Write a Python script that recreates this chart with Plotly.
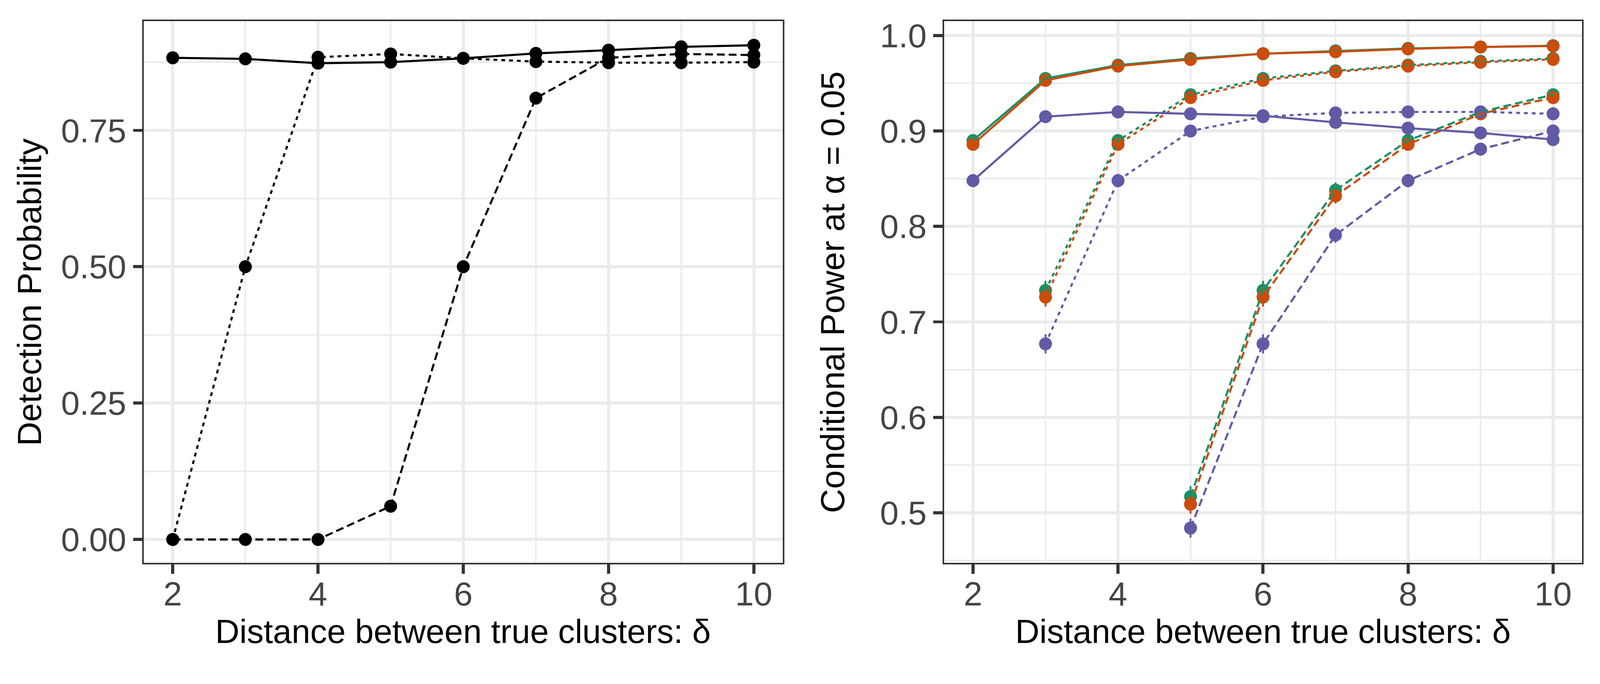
import plotly.graph_objects as go

# distance between true clusters
delta = [2, 3, 4, 5, 6, 7, 8, 9, 10]

# left panel: detection probability (three settings, by line type)
det_solid = [0.883, 0.881, 0.873, 0.875, 0.882, 0.891, 0.897, 0.903, 0.906]
det_dotted = [0.000, 0.500, 0.884, 0.890, 0.882, 0.876, 0.874, 0.874, 0.875]
det_dashed = [0.000, 0.000, 0.000, 0.061, 0.500, 0.809, 0.883, 0.890, 0.888]

# right panel: conditional power at alpha = 0.05 (three methods x three settings)
pow_green_solid = [0.890, 0.955, 0.969, 0.976, 0.981, 0.984, 0.9865, 0.988, 0.9894]
pow_orange_solid = [0.886, 0.953, 0.968, 0.975, 0.981, 0.983, 0.986, 0.988, 0.989]
pow_purple_solid = [0.848, 0.915, 0.920, 0.918, 0.916, 0.909, 0.903, 0.898, 0.891]
pow_green_dotted = [None, 0.733, 0.890, 0.938, 0.955, 0.963, 0.969, 0.973, 0.976]
pow_orange_dotted = [None, 0.726, 0.886, 0.935, 0.953, 0.962, 0.968, 0.972, 0.975]
pow_purple_dotted = [None, 0.677, 0.848, 0.900, 0.915, 0.919, 0.920, 0.920, 0.918]
pow_green_dashed = [None, None, None, 0.517, 0.733, 0.838, 0.890, 0.920, 0.938]
pow_orange_dashed = [None, None, None, 0.509, 0.726, 0.832, 0.886, 0.918, 0.935]
pow_purple_dashed = [None, None, None, 0.484, 0.677, 0.791, 0.848, 0.881, 0.900]

# error bar half widths
err_green_solid = [0.006, 0.004, 0.003, 0.003, 0.002, 0.002, 0.002, 0.002, 0.002]
err_orange_solid = [0.006, 0.004, 0.003, 0.003, 0.002, 0.002, 0.002, 0.002, 0.002]
err_purple_solid = [0.007, 0.005, 0.005, 0.005, 0.005, 0.005, 0.005, 0.005, 0.005]
err_green_dotted = [None, 0.010, 0.006, 0.004, 0.003, 0.003, 0.003, 0.003, 0.002]
err_orange_dotted = [None, 0.010, 0.006, 0.004, 0.003, 0.003, 0.003, 0.003, 0.002]
err_purple_dotted = [None, 0.010, 0.007, 0.005, 0.005, 0.005, 0.005, 0.005, 0.005]
err_green_dashed = [None, None, None, 0.011, 0.010, 0.008, 0.006, 0.005, 0.004]
err_orange_dashed = [None, None, None, 0.010, 0.010, 0.008, 0.006, 0.005, 0.004]
err_purple_dashed = [None, None, None, 0.010, 0.010, 0.008, 0.007, 0.006, 0.006]

GREEN = "#1B9066"
ORANGE = "#CC4C0A"
PURPLE = "#615AA5"
DASH = {"solid": "solid", "dotted": "10px,10.5px", "dashed": "20.5px,10.5px"}
FONT = "Liberation Sans, Arial, sans-serif"
W, H = 4200, 1750

fig = go.Figure()

# left panel: points then lines
left = [("solid", det_solid), ("dotted", det_dotted), ("dashed", det_dashed)]
for lt, ys in left:
    fig.add_trace(go.Scatter(x=delta, y=ys, mode="markers", xaxis="x", yaxis="y",
                             marker=dict(color="black", size=34), showlegend=False))
for lt, ys in left:
    fig.add_trace(go.Scatter(x=delta, y=ys, mode="lines", xaxis="x", yaxis="y",
                             line=dict(color="black", width=5.5, dash=DASH[lt]), showlegend=False))

# right panel
right = [
    (GREEN, "solid", pow_green_solid, err_green_solid),
    (GREEN, "dotted", pow_green_dotted, err_green_dotted),
    (GREEN, "dashed", pow_green_dashed, err_green_dashed),
    (ORANGE, "solid", pow_orange_solid, err_orange_solid),
    (ORANGE, "dotted", pow_orange_dotted, err_orange_dotted),
    (ORANGE, "dashed", pow_orange_dashed, err_orange_dashed),
    (PURPLE, "solid", pow_purple_solid, err_purple_solid),
    (PURPLE, "dotted", pow_purple_dotted, err_purple_dotted),
    (PURPLE, "dashed", pow_purple_dashed, err_purple_dashed),
]
for col, lt, ys, es in right:
    fig.add_trace(go.Scatter(x=delta, y=ys, mode="markers", xaxis="x2", yaxis="y2",
                             marker=dict(color=col, size=34),
                             error_y=dict(type="data", array=es, visible=True,
                                          width=0, thickness=5, color=col),
                             showlegend=False))
for col, lt, ys, es in right:
    fig.add_trace(go.Scatter(x=delta, y=ys, mode="lines", xaxis="x2", yaxis="y2",
                             line=dict(color=col, width=5.5, dash=DASH[lt]), showlegend=False))

axis_common = dict(
    showline=True, mirror=True, linecolor="#333333", linewidth=4,
    ticks="outside", ticklen=24, tickwidth=8, tickcolor="#333333",
    showgrid=True, gridcolor="#EBEBEB", gridwidth=7.5, zeroline=False,
    tickfont=dict(family=FONT, size=88, color="#444444"),
)
xaxis_common = dict(axis_common, range=[1.6, 10.4], tickvals=[2, 4, 6, 8, 10],
                    ticklabelstandoff=-22,
                    minor=dict(showgrid=True, gridcolor="#EBEBEB", gridwidth=4, dtick=1, tick0=2))

fig.update_layout(
    width=W, height=H,
    margin=dict(l=0, r=0, t=0, b=0),
    paper_bgcolor="white", plot_bgcolor="white",
    font=dict(family=FONT, color="black"),
    xaxis=dict(xaxis_common, domain=[0.0898, 0.4893], anchor="y"),
    yaxis=dict(axis_common, domain=[0.1571, 0.9743], anchor="x",
               range=[-0.043, 0.95], tickvals=[0, 0.25, 0.5, 0.75], tickformat=".2f",
               minor=dict(showgrid=True, gridcolor="#EBEBEB", gridwidth=4, dtick=0.125, tick0=0)),
    xaxis2=dict(xaxis_common, domain=[0.59, 0.9888], anchor="y2"),
    yaxis2=dict(axis_common, domain=[0.1571, 0.9743], anchor="x2",
                range=[0.4475, 1.015], tickvals=[0.5, 0.6, 0.7, 0.8, 0.9, 1.0], tickformat=".1f",
                minor=dict(showgrid=True, gridcolor="#EBEBEB", gridwidth=4, dtick=0.05, tick0=0.45)),
)

title_font = dict(family=FONT, size=88, color="black")
fig.add_annotation(text="Distance between true clusters: δ", xref="paper", yref="paper",
                   x=0.2895, y=0.0537, xanchor="center", yanchor="middle",
                   showarrow=False, font=title_font)
fig.add_annotation(text="Distance between true clusters: δ", xref="paper", yref="paper",
                   x=0.7894, y=0.0537, xanchor="center", yanchor="middle",
                   showarrow=False, font=title_font)
fig.add_annotation(text="Detection Probability", xref="paper", yref="paper",
                   x=0.0183, y=0.5657, xanchor="center", yanchor="middle", textangle=-90,
                   showarrow=False, font=title_font)
fig.add_annotation(text="Conditional Power at α = 0.05", xref="paper", yref="paper",
                   x=0.5202, y=0.5657, xanchor="center", yanchor="middle", textangle=-90,
                   showarrow=False, font=title_font)

# fit the fixed-size figure to the page width (same factor both ways)
fit_js = """
var gd = document.getElementById('{plot_id}');
document.body.style.margin = '0';
document.body.style.overflow = 'hidden';
var s = document.documentElement.clientWidth / %d;
gd.style.transformOrigin = '0 0';
gd.style.transform = 'scale(' + s + ')';
""" % W

fig.write_html("out.html", post_script=fit_js, config={"displayModeBar": False})
